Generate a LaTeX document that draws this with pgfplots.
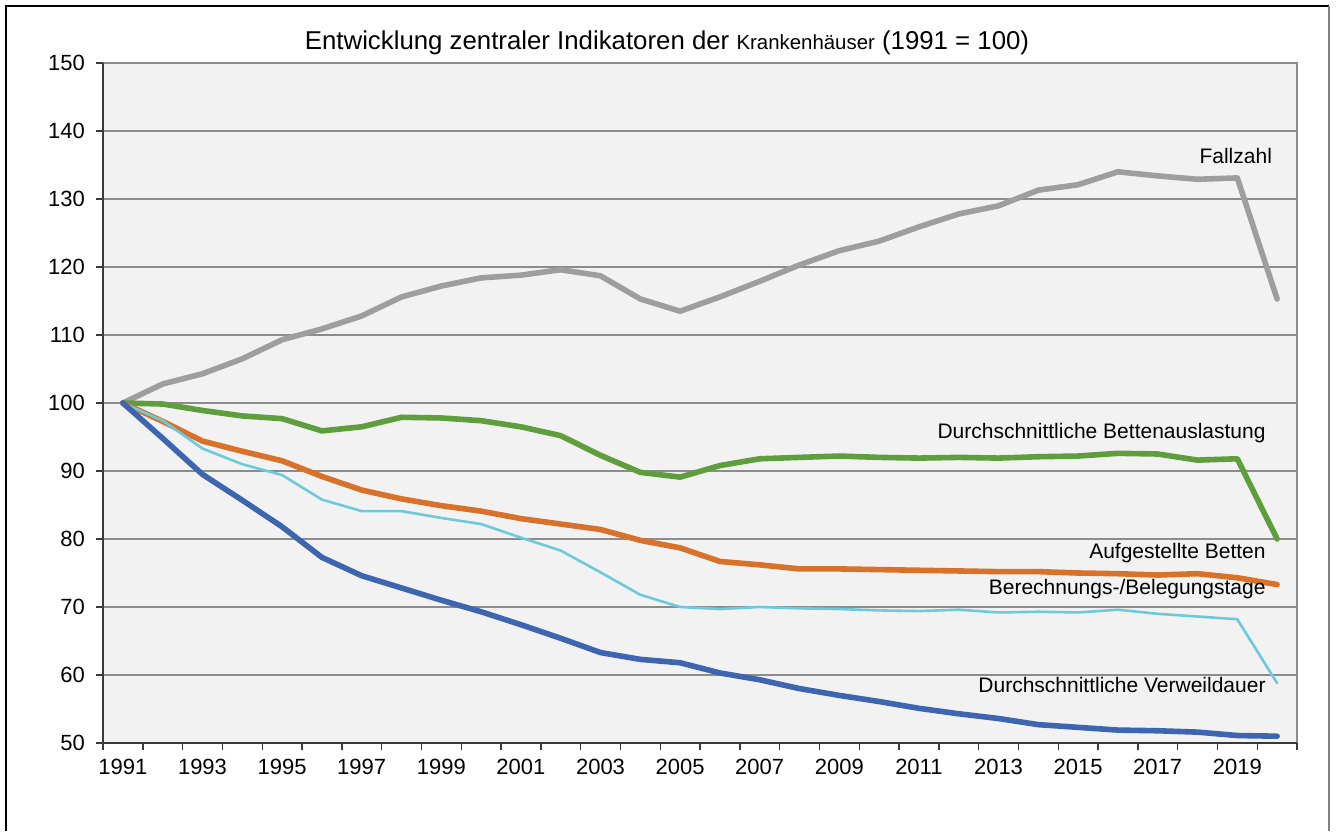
\documentclass[border=0pt]{standalone}
\usepackage{fontspec}
\setmainfont{Liberation Sans}
\usepackage{pgfplots}
\pgfplotsset{compat=1.18}
\definecolor{cgray}{HTML}{9E9E9E}
\definecolor{cgreen}{HTML}{5F9E3D}
\definecolor{corange}{HTML}{D8722A}
\definecolor{cblue}{HTML}{3E66B0}
\definecolor{ccyan}{HTML}{6DCADC}
\definecolor{bgcol}{HTML}{F2F2F2}
\definecolor{gridcol}{HTML}{8C8C8C}
\definecolor{axcol}{HTML}{3A3A3A}
\begin{document}
\begin{tikzpicture}
\useasboundingbox (0,0) rectangle (668.5pt,415.5pt);
\draw[black, line width=0.7pt] (3pt,0pt) -- (3pt,412.5pt) -- (664.5pt,412.5pt);
\draw[gray, line width=0.9pt] (664.5pt,412.5pt) -- (664.5pt,0pt);
\node[font=\fontsize{12.9}{15}\selectfont] at (333.5pt,394pt) {Entwicklung zentraler Indikatoren der {\fontsize{10.2}{12}\selectfont Krankenhäuser} (1991 = 100)};
\begin{axis}[
  at={(51.5pt,44pt)}, anchor=south west,
  width=597pt, height=340pt, scale only axis,
  xmin=-0.5, xmax=29.5, ymin=50, ymax=150,
  ytick={50,60,...,150},
  xtick={-0.5,0.5,...,29.5},
  xticklabels={},
  extra x ticks={0,2,...,28},
  extra x tick labels={1991,1993,1995,1997,1999,2001,2003,2005,2007,2009,2011,2013,2015,2017,2019},
  extra x tick style={major tick length=0pt, grid=none},
  tick align=outside, xtick pos=bottom, ytick pos=left,
  major tick length=3.5pt,
  tick style={axcol, line width=0.7pt},
  ymajorgrids, grid style={gridcol, line width=0.75pt},
  axis background/.style={fill=bgcol},
  axis line style={draw=none},
  /pgf/number format/assume math mode=true,
  ticklabel style={font=\fontsize{11}{13}\selectfont},
  yticklabel style={xshift=-2pt},
  xticklabel style={yshift=-4.5pt},
  clip=false,
]
\draw[gridcol, line width=1.2pt] (rel axis cs:0,1) -- (rel axis cs:1,1) -- (rel axis cs:1,0);
% Fallzahl
\addplot[cgray, line width=2.8pt, line join=round, line cap=round] coordinates {
(0,100) (1,102.8) (2,104.3) (3,106.5) (4,109.3) (5,110.9) (6,112.8) (7,115.6) (8,117.2) (9,118.4)
(10,118.8) (11,119.6) (12,118.7) (13,115.3) (14,113.5) (15,115.6) (16,117.9) (17,120.3) (18,122.4) (19,123.8)
(20,125.9) (21,127.8) (22,129.0) (23,131.3) (24,132.1) (25,134.0) (26,133.4) (27,132.9) (28,133.1) (29,115.3)};
% Durchschnittliche Bettenauslastung
\addplot[cgreen, line width=2.8pt, line join=round, line cap=round] coordinates {
(0,100) (1,99.85) (2,98.9) (3,98.1) (4,97.7) (5,95.9) (6,96.5) (7,97.9) (8,97.8) (9,97.4)
(10,96.5) (11,95.2) (12,92.3) (13,89.8) (14,89.1) (15,90.8) (16,91.8) (17,92.0) (18,92.2) (19,92.0)
(20,91.9) (21,92.0) (22,91.9) (23,92.1) (24,92.2) (25,92.6) (26,92.5) (27,91.6) (28,91.8) (29,80.0)};
% Aufgestellte Betten
\addplot[corange, line width=2.8pt, line join=round, line cap=round] coordinates {
(0,100) (1,97.3) (2,94.4) (3,92.9) (4,91.5) (5,89.2) (6,87.2) (7,85.9) (8,84.9) (9,84.1)
(10,83.0) (11,82.2) (12,81.4) (13,79.8) (14,78.7) (15,76.7) (16,76.2) (17,75.6) (18,75.6) (19,75.5)
(20,75.4) (21,75.3) (22,75.2) (23,75.2) (24,75.0) (25,74.9) (26,74.7) (27,74.9) (28,74.3) (29,73.3)};
% Berechnungs-/Belegungstage
\addplot[ccyan, line width=1.3pt, line join=round, line cap=round] coordinates {
(0,100) (1,97.4) (2,93.3) (3,91.0) (4,89.4) (5,85.8) (6,84.1) (7,84.1) (8,83.1) (9,82.2)
(10,80.2) (11,78.3) (12,75.1) (13,71.8) (14,70.0) (15,69.7) (16,70.0) (17,69.8) (18,69.7) (19,69.5)
(20,69.4) (21,69.6) (22,69.2) (23,69.3) (24,69.2) (25,69.6) (26,69.0) (27,68.6) (28,68.2) (29,58.8)};
% Durchschnittliche Verweildauer
\addplot[cblue, line width=2.8pt, line join=round, line cap=round] coordinates {
(0,100) (1,94.8) (2,89.5) (3,85.7) (4,81.8) (5,77.3) (6,74.6) (7,72.8) (8,71.0) (9,69.3)
(10,67.4) (11,65.4) (12,63.3) (13,62.3) (14,61.8) (15,60.3) (16,59.3) (17,58.0) (18,57.0) (19,56.1)
(20,55.1) (21,54.3) (22,53.6) (23,52.7) (24,52.3) (25,51.9) (26,51.8) (27,51.6) (28,51.1) (29,51.0)};
\draw[axcol, line width=1.2pt] (rel axis cs:0,1) -- (rel axis cs:0,0) -- (rel axis cs:1,0);
\begin{scope}[every node/.style={font=\fontsize{10.5}{12}\selectfont, anchor=east, inner sep=0pt}]
\node at (axis cs:28.88,136.3) {Fallzahl};
\node at (axis cs:28.72,95.6) {Durchschnittliche Bettenauslastung};
\node at (axis cs:28.72,77.9) {Aufgestellte Betten};
\node at (axis cs:28.72,72.6) {Berechnungs-/Belegungstage};
\node at (axis cs:28.72,58.5) {Durchschnittliche Verweildauer};
\end{scope}
\end{axis}
\end{tikzpicture}
\end{document}
